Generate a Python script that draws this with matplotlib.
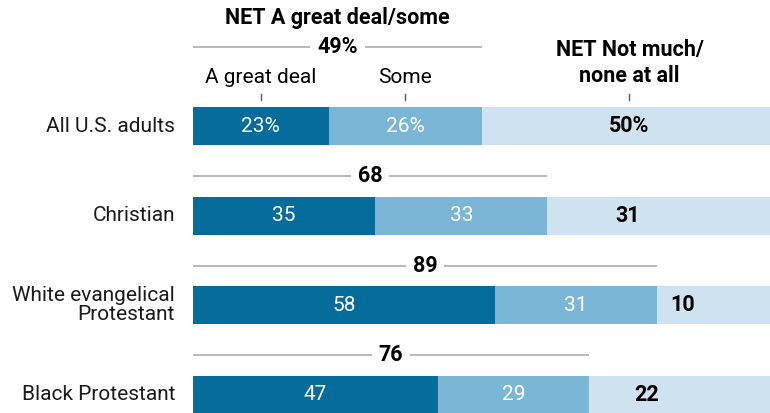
import matplotlib
matplotlib.use("Agg")
import matplotlib.pyplot as plt

# ---- data ----
categories = ["All U.S. adults", "Christian", "White evangelical\nProtestant", "Black Protestant"]
great_deal = [23, 35, 58, 47]
some = [26, 33, 31, 29]
not_much = [50, 31, 10, 22]
net_some = [49, 68, 89, 76]
pct_row = [True, False, False, False]

DARK = "#066C9B"
MID = "#7BB6D6"
LIGHT = "#CFE2F0"
GRAY = "#A6A6A6"
FONT = "Roboto"

plt.rcParams["font.family"] = [FONT, "DejaVu Sans"]

FS = 15
FSB = 15.5

W, H = 770, 413
fig = plt.figure(figsize=(W / 100, H / 100), dpi=100)

x0 = 193  # pixel start of bars
row0_px = 126.0
row_gap = 89.5
ylim = ((H - row0_px) / row_gap, -row0_px / row_gap)
bar_h = 38 / row_gap

left = x0 / W
width = (W - x0) / W
ax_top = fig.add_axes([left, 0, width, 1])
ax_bot = fig.add_axes([left, 0, width, 1])
for a in (ax_top, ax_bot):
    a.set_ylim(*ylim)
    a.axis("off")
    a.patch.set_alpha(0)
ax_top.set_xlim(0, (W - x0) / 5.898)
ax_bot.set_xlim(0, (W - x0) / 5.21)

for i, cat in enumerate(categories):
    ax = ax_top if i == 0 else ax_bot
    ax.axhspan(i - bar_h / 2, i + bar_h / 2, xmin=0, xmax=1, color=LIGHT, lw=0)
    segs = [great_deal[i], some[i], not_much[i]]
    cols = [DARK, MID, LIGHT]
    lft = 0
    for j, (v, c) in enumerate(zip(segs, cols)):
        ax.barh(i, v, left=lft, height=bar_h, color=c, lw=0)
        lab = f"{v}%" if pct_row[i] else f"{v}"
        if j < 2:
            ax.text(lft + v / 2, i, lab, ha="center", va="center", color="white",
                    fontsize=FS)
        else:
            ax.text(lft + v / 2, i, lab, ha="center", va="center", color="black",
                    fontsize=FSB, fontweight="bold")
        lft += v
    # NET line
    ly = i - (79 if i == 0 else 39.5) / row_gap
    ax.plot([0, net_some[i]], [ly, ly], color=GRAY, lw=1.1, solid_capstyle="butt")
    lab = f"{net_some[i]}%" if pct_row[i] else f"{net_some[i]}"
    ax.text(net_some[i] / 2, ly, lab, ha="center", va="center", fontsize=FSB,
            fontweight="bold", color="black",
            bbox=dict(facecolor="white", edgecolor="none", pad=5))
    # category label
    fig.text(175 / W, 1 - (row0_px + row_gap * i) / H, cat, ha="right", va="center",
             fontsize=FS, linespacing=1.02, color="#1a1a1a")

# header annotations (top row)
yh = lambda px: (px - row0_px) / row_gap
ax_top.text(net_some[0] / 2, yh(18), "NET A great deal/some", ha="center", va="center",
            fontsize=FSB, fontweight="bold")
ax_top.text(great_deal[0] / 2, yh(77), "A great deal", ha="center", va="center", fontsize=FS)
ax_top.text(great_deal[0] + some[0] / 2, yh(77), "Some", ha="center", va="center", fontsize=FS)
ax_top.text(net_some[0] + not_much[0] / 2, yh(63), "NET Not much/\nnone at all", ha="center",
            va="center", fontsize=FSB, fontweight="bold", linespacing=1.2)
for xc in (great_deal[0] / 2, great_deal[0] + some[0] / 2, net_some[0] + not_much[0] / 2):
    ax_top.plot([xc, xc], [yh(94), yh(100)], color="#555555", lw=1)

fig.savefig("out.png", dpi=100)
